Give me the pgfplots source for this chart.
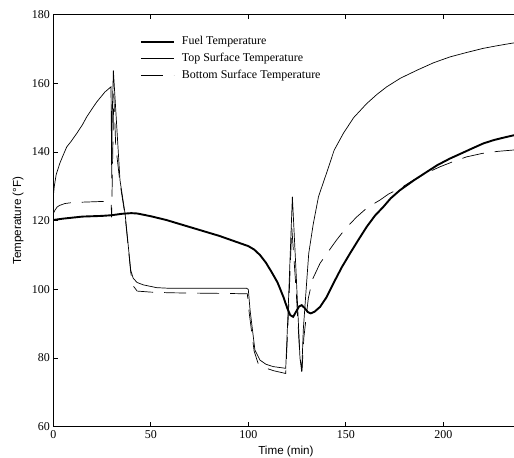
\documentclass[border=0pt]{standalone}
\usepackage{fontspec}
\setmainfont{Liberation Serif}
\newfontfamily\arial{Liberation Sans}
\usepackage{pgfplots}
\pgfplotsset{compat=1.18}
\begin{document}
\begin{tikzpicture}
\begin{axis}[
  scale only axis,
  width=468bp, height=412bp,
  xmin=0, xmax=240, ymin=60, ymax=180,
  xtick={0,50,100,150,200}, ytick={60,80,100,120,140,160,180},
  tick align=inside, major tick length=4.5bp,
  axis line style={line width=0.9bp},
  tick style={line width=0.8bp, black},
  /pgf/number format/assume math mode=true,
  ticklabel style={font=\fontsize{12}{14}\selectfont},
  xlabel={\arial Time (min)},
  ylabel={\arial Temperature (°F)},
  label style={font=\fontsize{11.7}{14}\selectfont},
  xlabel style={at={(axis description cs:0.497,-0.059)}, anchor=center},
  ylabel style={at={(axis description cs:-0.0754,0.5)}, anchor=center},
  legend style={draw=none, fill=none, at={(rel axis cs:0.1853,0.9478)}, anchor=north west,
    inner sep=0pt, outer sep=0pt, row sep=5.7bp, column sep=7bp,
    font=\fontsize{12}{14}\selectfont,
    nodes={inner sep=0pt, text height=8.5bp, text depth=2.5bp}},
  legend cell align=left,
  legend image code/.code={\draw[#1] (0bp,0bp) -- (33bp,0bp);},
]
% Fuel temperature
\addplot[black, line width=1.9bp] coordinates {
(0,120.2) (5,120.6) (10,120.9) (15,121.2) (20,121.3) (25,121.4) (30,121.6) (35,122.0)
(40,122.2) (43,122.1) (50,121.3) (58,120.2) (65,119.0) (75,117.3) (85,115.6) (90,114.6)
(95,113.6) (100,112.6) (103,111.6) (106,110.0) (109,107.8) (112,105.0) (115,102.0)
(118,97.8) (120,94.5) (121.5,92.5) (123,92.0) (124.5,93.5) (126,95.0) (127.4,95.4)
(129,94.5) (130.5,93.4) (132,93.0) (134,93.5) (136.8,94.9) (140,97.6) (143.6,101.7)
(148,106.5) (152.2,110.5) (156,114.0) (160.7,118.2) (165,121.5) (169.2,124.0)
(173,126.5) (177.8,128.9) (185,131.8) (191.5,134.2) (197,136.2) (203.4,138.1)
(210,139.8) (215,141.1) (220.5,142.5) (226,143.5) (231,144.2) (236.3,144.9) (240,145.3)
};
\addlegendentry{Fuel Temperature}
% Top surface temperature
\addplot[black, line width=0.7bp] coordinates {
(0,127) (0.5,130) (1.5,133.5) (3.4,136.8) (5,139) (6.9,141.5) (9,143) (12,145.4)
(15,148) (17.1,150.2) (20,152.7) (22.3,154.6) (26.5,157.5) (29.6,159.0)
(29.95,132.3) (30.2,150) (30.8,163.8) (34.2,131.8) (36.8,122.1) (38.5,112.4)
(39.7,105.6) (41,103.2) (43,102) (46.2,101.3) (53,100.5) (60,100.3) (99.2,100.3)
(100,100) (100.9,94) (103.4,82.3) (106,79.4) (109,78.2) (112.8,77.5) (119.2,77.0)
(120.5,95) (122.6,127.0) (124.5,105) (126.5,80) (127.4,76.0) (128.2,88.2) (130,102.7)
(131,110.5) (133.3,119) (136,127) (140.2,134) (144,140.5) (148.7,145.4) (154,150)
(160.7,154.1) (166,156.8) (171,159.0) (178,161.5) (186.4,163.8) (195,166) (203.4,167.7)
(212,169) (220.5,170.2) (228,171) (236.3,171.8) (240,172.1)
};
\addlegendentry{Top Surface Temperature}
% Bottom surface temperature
\addplot[black, line width=0.7bp, dash pattern=on 22bp off 11bp] coordinates {
(0,122.1) (1,123.2) (2,124) (3.4,124.5) (6,125) (8.6,125.2) (15,125.4) (20,125.5)
(25,125.6) (29.6,125.7) (29.9,121) (30.5,140) (31,157) (32,142) (34.2,131) (36.8,121.5)
(38.5,112) (39.7,105) (41,101) (43,99.5) (50,99.2) (60,99) (90,98.8) (99.5,98.7)
(100.5,93) (103,82) (105,78.5) (109.4,77) (113,76.3) (119.2,75.5) (120.5,92)
(122.3,118) (124.5,100) (126.5,80) (127.6,77) (128.5,86) (130.8,97.5) (133,103)
(136.8,107.6) (141,111) (145.3,114.4) (150,117.8) (155.6,121.1) (161,123.8)
(167.5,126.0) (172,127.8) (177.8,129.4) (184.6,131.8) (191,133.8) (198.3,135.7)
(205,137.2) (212,138.6) (220,139.6) (228,140.2) (236.3,140.6) (240,140.8)
};
\addlegendentry{Bottom Surface Temperature}
\end{axis}
\pgfresetboundingbox
\useasboundingbox (-53.3bp,-31.3bp) rectangle (460.7bp,426.7bp);
\end{tikzpicture}
\end{document}
